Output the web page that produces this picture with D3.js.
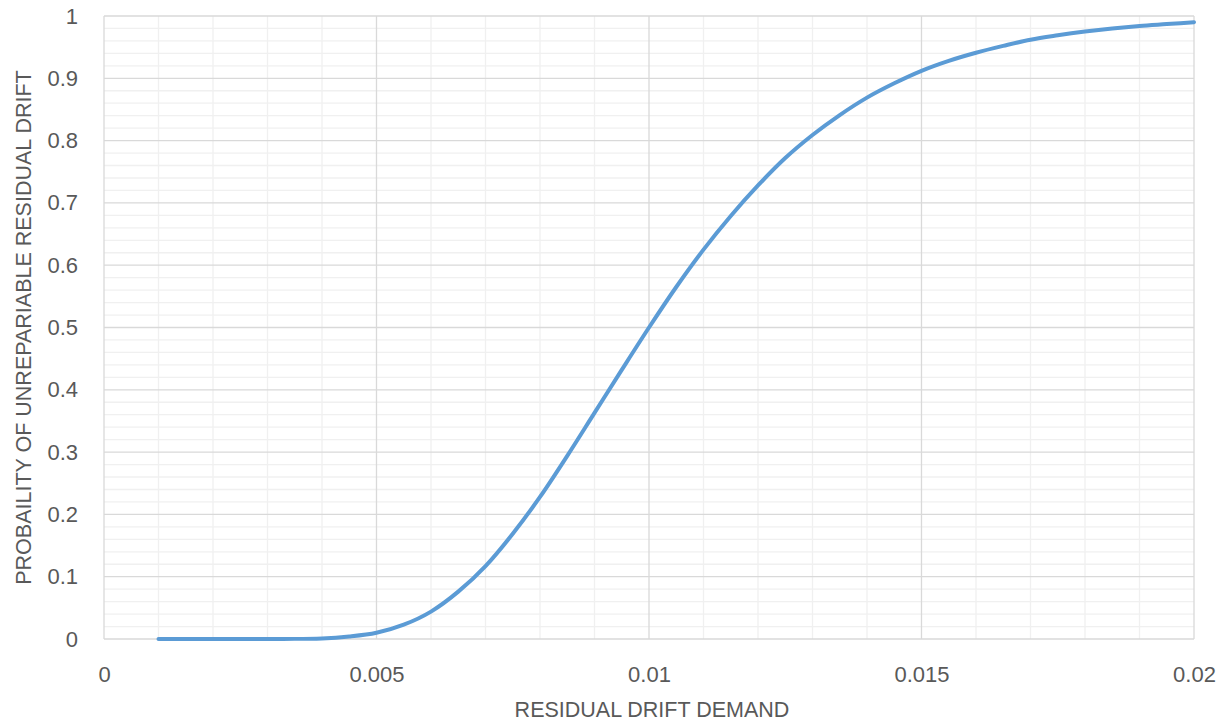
<!DOCTYPE html>
<html><head><meta charset="utf-8">
<script src="https://cdn.jsdelivr.net/npm/d3@7"></script>
<style>body{margin:0;background:#fff}svg{display:block}</style>
</head><body>
<svg id="c" width="1228" height="728"></svg>
<script>
const drift = [0.001,0.0015,0.002,0.0025,0.003,0.0035,0.004,0.0045,0.005,0.0055,0.006,0.0065,0.007,0.0075,0.008,0.0085,0.009,0.0095,0.01,0.0105,0.011,0.0115,0.012,0.0125,0.013,0.0135,0.014,0.0145,0.015,0.0155,0.016,0.0165,0.017,0.0175,0.018,0.0185,0.019,0.0195,0.02];
const prob = [0,0,0,0,0.00003,0.0002,0.001,0.004,0.010,0.023,0.044,0.076,0.117,0.169,0.228,0.294,0.363,0.432,0.5,0.565,0.625,0.679,0.728,0.772,0.809,0.841,0.869,0.892,0.912,0.928,0.941,0.952,0.962,0.969,0.975,0.980,0.984,0.987,0.990];
const xTicks = [0,0.005,0.01,0.015,0.02];
const yTicks = [0,0.1,0.2,0.3,0.4,0.5,0.6,0.7,0.8,0.9,1];
const xTitle = "RESIDUAL DRIFT DEMAND";
const yTitle = "PROBAILITY OF UNREPARIABLE RESIDUAL DRIFT";

const svg = d3.select("#c");
const L=104, R=1194, T=16, B=639;
const x = d3.scaleLinear().domain([0,0.02]).range([L,R]);
const y = d3.scaleLinear().domain([0,1]).range([B,T]);
const font = "'Liberation Sans', Arial, sans-serif";

// minor grid
const xMinor = d3.range(0,21).map(i=>i*0.001).filter(v=>Math.round(v*1000)%5!==0);
const yMinor = d3.range(0,51).map(i=>i*0.02).filter(v=>Math.round(v*50)%5!==0);
svg.append("g").selectAll("line").data(xMinor).join("line")
  .attr("x1",d=>x(d)).attr("x2",d=>x(d)).attr("y1",T).attr("y2",B)
  .attr("stroke","#f0f0f0").attr("stroke-width",1.3);
svg.append("g").selectAll("line").data(yMinor).join("line")
  .attr("x1",L).attr("x2",R).attr("y1",d=>y(d)).attr("y2",d=>y(d))
  .attr("stroke","#f0f0f0").attr("stroke-width",1.3);
// major grid
svg.append("g").selectAll("line").data(xTicks).join("line")
  .attr("x1",d=>x(d)).attr("x2",d=>x(d)).attr("y1",T).attr("y2",B)
  .attr("stroke","#d9d9d9").attr("stroke-width",1.3);
svg.append("g").selectAll("line").data(yTicks).join("line")
  .attr("x1",L).attr("x2",R).attr("y1",d=>y(d)).attr("y2",d=>y(d))
  .attr("stroke","#d9d9d9").attr("stroke-width",1.3);

// axes via d3
const xAxis = d3.axisBottom(x).tickValues(xTicks).tickSize(0).tickPadding(27).tickFormat(d=>String(+d.toFixed(3)));
const gx = svg.append("g").attr("transform",`translate(0,${B})`).call(xAxis);
gx.select(".domain").remove();
gx.selectAll("text").attr("font-family",font).attr("font-size",22).attr("fill","#595959");
const yAxis = d3.axisLeft(y).tickValues(yTicks).tickSize(0).tickPadding(26).tickFormat(d=>String(+d.toFixed(1)));
const gy = svg.append("g").attr("transform",`translate(${L},0)`).call(yAxis);
gy.select(".domain").remove();
gy.selectAll("text").attr("font-family",font).attr("font-size",22).attr("fill","#595959");

// curve
const line = d3.line().x((d,i)=>x(drift[i])).y(d=>y(d)).curve(d3.curveMonotoneX);
svg.append("path").datum(prob).attr("d",line).attr("fill","none")
  .attr("stroke","#5b9bd5").attr("stroke-width",4).attr("stroke-linecap","round");

// titles
svg.append("text").attr("x",652).attr("y",717).attr("text-anchor","middle")
  .attr("font-family",font).attr("font-size",21.5).attr("fill","#595959").text(xTitle);
svg.append("text").attr("transform","translate(30.5,327.5) rotate(-90)").attr("text-anchor","middle")
  .attr("font-family",font).attr("font-size",21.5).attr("fill","#595959").text(yTitle);
</script>
</body></html>
